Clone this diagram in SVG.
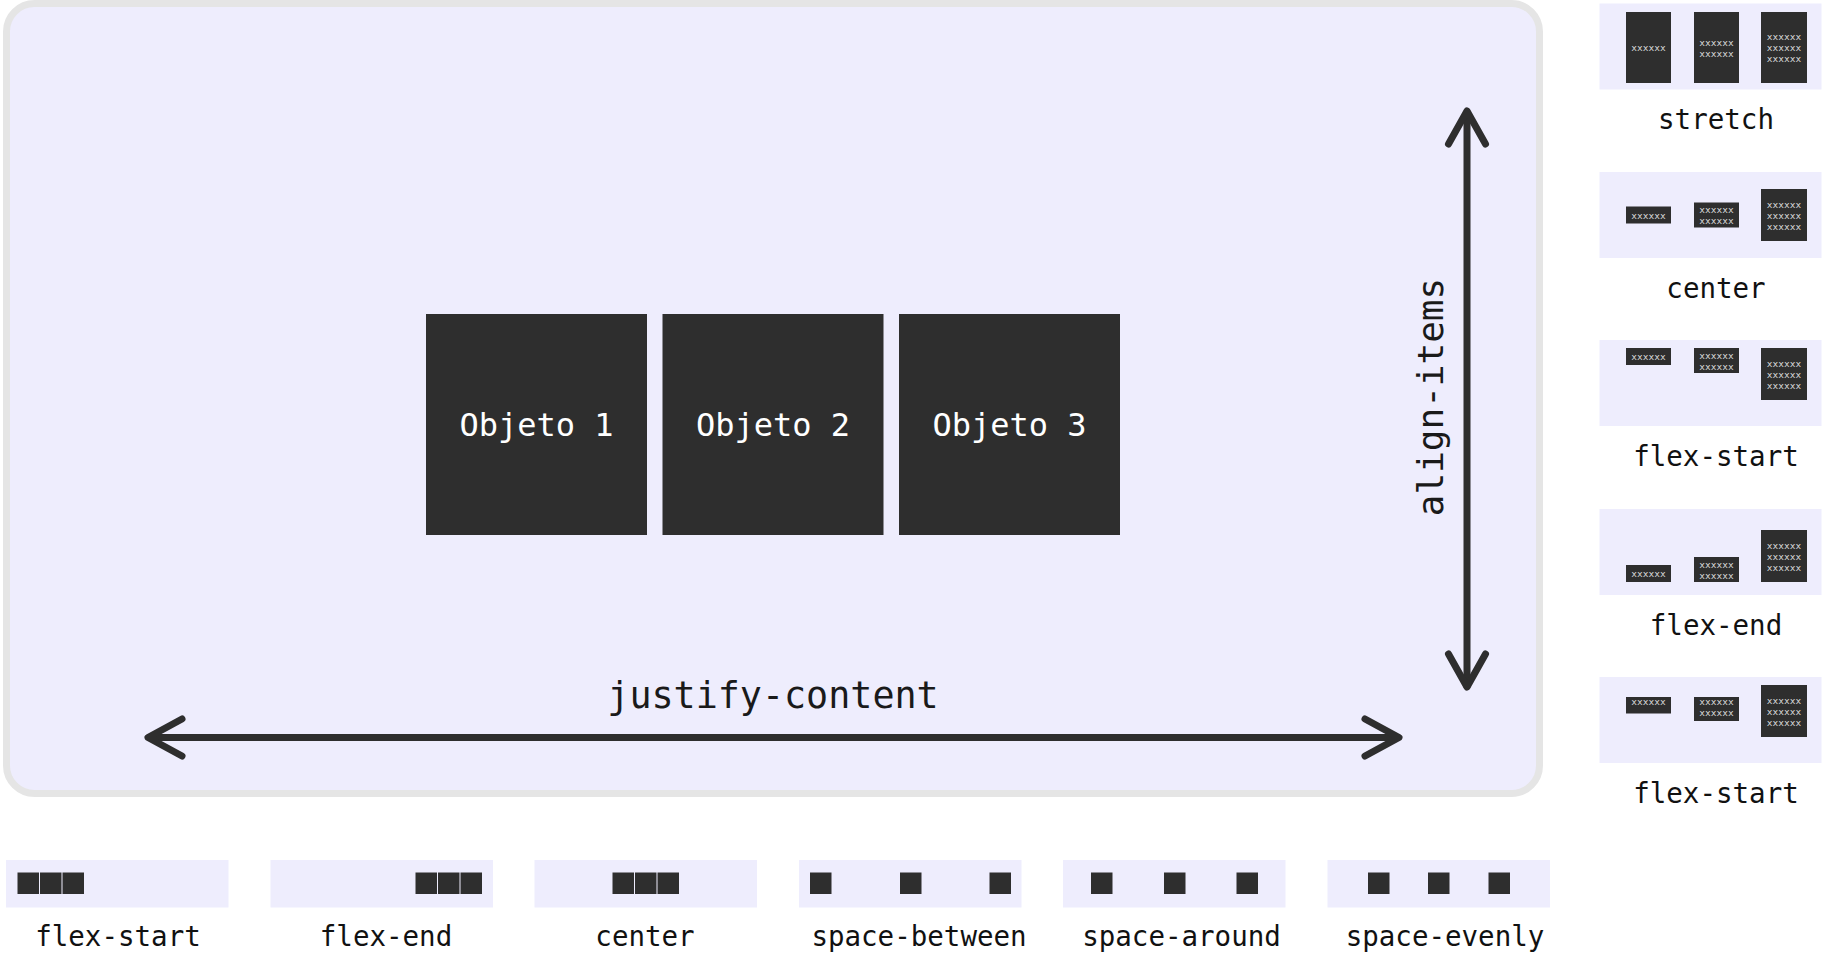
<svg xmlns="http://www.w3.org/2000/svg" width="1836" height="969" viewBox="0 0 1836 969">
<style>
.bg{fill:#ffffff}
.container{fill:#eeedfd;stroke:#e5e5e5;stroke-width:7}
.panel{fill:#eeedfd}
.item{fill:#2e2e2e}
.obj-text{font-family:"DejaVu Sans Mono","Liberation Mono",monospace;font-size:32px;fill:#ffffff;text-anchor:middle}
.axis-text{font-family:"DejaVu Sans Mono","Liberation Mono",monospace;font-size:36px;fill:#1a1a1a;text-anchor:middle}
.label{font-family:"DejaVu Sans Mono","Liberation Mono",monospace;font-size:27.5px;fill:#111111;text-anchor:middle}
.xs{font-family:"DejaVu Sans Mono","Liberation Mono",monospace;font-size:9.5px;fill:#d8d8d8;text-anchor:middle;dominant-baseline:central}
.arrow{fill:none;stroke:#2e2e2e;stroke-width:7;stroke-linecap:round;stroke-linejoin:round}
</style>
<rect class="bg" x="0" y="0" width="1836" height="969"/>

<g id="container">
  <rect class="container" x="6.5" y="3.5" width="1533" height="790" rx="28" ry="28"/>
</g>

<g id="objeto-1">
  <rect class="item" x="426" y="314" width="221" height="221"/>
  <text class="obj-text" x="536.5" y="436">Objeto 1</text>
</g>
<g id="objeto-2">
  <rect class="item" x="662.5" y="314" width="221" height="221"/>
  <text class="obj-text" x="773" y="436">Objeto 2</text>
</g>
<g id="objeto-3">
  <rect class="item" x="899" y="314" width="221" height="221"/>
  <text class="obj-text" x="1009.5" y="436">Objeto 3</text>
</g>

<g id="connectors">
  <g id="justify-content-arrow">
    <line class="arrow" x1="150" y1="737.5" x2="1397" y2="737.5"/>
    <polyline class="arrow" points="182,719 148,737.5 182,756"/>
    <polyline class="arrow" points="1365,719 1399,737.5 1365,756"/>
  </g>
  <g id="align-items-arrow">
    <line class="arrow" x1="1467" y1="113" x2="1467" y2="686"/>
    <polyline class="arrow" points="1448.5,144 1467,111 1485.5,144"/>
    <polyline class="arrow" points="1448.5,654 1467,687 1485.5,654"/>
  </g>
</g>

<g id="label-justify-content">
  <text class="axis-text" x="773" y="708" style="font-size:36.7px">justify-content</text>
</g>
<g id="label-align-items">
  <text class="axis-text" x="0" y="0" transform="translate(1443 397) rotate(-90)">align-items</text>
</g>

<!-- Right column: align-items examples -->
<g id="ai-stretch">
  <rect class="panel" x="1599.5" y="3.5" width="222" height="86"/>
  <rect class="item" x="1626" y="12" width="45" height="71"/>
  <rect class="item" x="1694" y="12" width="45" height="71"/>
  <rect class="item" x="1761" y="12" width="46" height="71"/>
  <text class="xs" x="1648.5" y="47.5">xxxxxx</text>
  <text class="xs" x="1716.5" y="42">xxxxxx</text>
  <text class="xs" x="1716.5" y="53">xxxxxx</text>
  <text class="xs" x="1784" y="36.5">xxxxxx</text>
  <text class="xs" x="1784" y="47.5">xxxxxx</text>
  <text class="xs" x="1784" y="58.5">xxxxxx</text>
  <text class="label" x="1716" y="129">stretch</text>
</g>
<g id="ai-center">
  <rect class="panel" x="1599.5" y="172" width="222" height="86"/>
  <rect class="item" x="1626" y="206.5" width="45" height="17"/>
  <rect class="item" x="1694" y="202.5" width="45" height="25"/>
  <rect class="item" x="1761" y="189" width="46" height="52"/>
  <text class="xs" x="1648.5" y="215">xxxxxx</text>
  <text class="xs" x="1716.5" y="209.5">xxxxxx</text>
  <text class="xs" x="1716.5" y="220.5">xxxxxx</text>
  <text class="xs" x="1784" y="204">xxxxxx</text>
  <text class="xs" x="1784" y="215">xxxxxx</text>
  <text class="xs" x="1784" y="226">xxxxxx</text>
  <text class="label" x="1716" y="298">center</text>
</g>
<g id="ai-flex-start">
  <rect class="panel" x="1599.5" y="340" width="222" height="86"/>
  <rect class="item" x="1626" y="348" width="45" height="17"/>
  <rect class="item" x="1694" y="348" width="45" height="25"/>
  <rect class="item" x="1761" y="348" width="46" height="52"/>
  <text class="xs" x="1648.5" y="356.5">xxxxxx</text>
  <text class="xs" x="1716.5" y="355">xxxxxx</text>
  <text class="xs" x="1716.5" y="366">xxxxxx</text>
  <text class="xs" x="1784" y="363">xxxxxx</text>
  <text class="xs" x="1784" y="374">xxxxxx</text>
  <text class="xs" x="1784" y="385">xxxxxx</text>
  <text class="label" x="1716" y="466">flex-start</text>
</g>
<g id="ai-flex-end">
  <rect class="panel" x="1599.5" y="509" width="222" height="86"/>
  <rect class="item" x="1626" y="565" width="45" height="17"/>
  <rect class="item" x="1694" y="557" width="45" height="25"/>
  <rect class="item" x="1761" y="530" width="46" height="52"/>
  <text class="xs" x="1648.5" y="573.5">xxxxxx</text>
  <text class="xs" x="1716.5" y="564">xxxxxx</text>
  <text class="xs" x="1716.5" y="575">xxxxxx</text>
  <text class="xs" x="1784" y="545">xxxxxx</text>
  <text class="xs" x="1784" y="556">xxxxxx</text>
  <text class="xs" x="1784" y="567">xxxxxx</text>
  <text class="label" x="1716" y="635">flex-end</text>
</g>
<g id="ai-baseline">
  <rect class="panel" x="1599.5" y="677" width="222" height="86"/>
  <rect class="item" x="1626" y="697" width="45" height="16.5"/>
  <rect class="item" x="1694" y="697" width="45" height="24"/>
  <rect class="item" x="1761" y="685" width="46" height="52"/>
  <text class="xs" x="1648.5" y="701.5">xxxxxx</text>
  <text class="xs" x="1716.5" y="701.5">xxxxxx</text>
  <text class="xs" x="1716.5" y="712.5">xxxxxx</text>
  <text class="xs" x="1784" y="700.5">xxxxxx</text>
  <text class="xs" x="1784" y="711.5">xxxxxx</text>
  <text class="xs" x="1784" y="722.5">xxxxxx</text>
  <text class="label" x="1716" y="803">flex-start</text>
</g>

<!-- Bottom row: justify-content examples -->
<g id="jc-flex-start">
  <rect class="panel" x="6" y="860" width="222.5" height="47.5"/>
  <rect class="item" x="17.5" y="872.5" width="21.5" height="21.5"/>
  <rect class="item" x="40" y="872.5" width="21.5" height="21.5"/>
  <rect class="item" x="62.5" y="872.5" width="21.5" height="21.5"/>
  <text class="label" x="118" y="946">flex-start</text>
</g>
<g id="jc-flex-end">
  <rect class="panel" x="270.5" y="860" width="222.5" height="47.5"/>
  <rect class="item" x="415.5" y="872.5" width="21.5" height="21.5"/>
  <rect class="item" x="438" y="872.5" width="21.5" height="21.5"/>
  <rect class="item" x="460.5" y="872.5" width="21.5" height="21.5"/>
  <text class="label" x="386" y="946">flex-end</text>
</g>
<g id="jc-center">
  <rect class="panel" x="534.5" y="860" width="222.5" height="47.5"/>
  <rect class="item" x="612.5" y="872.5" width="21.5" height="21.5"/>
  <rect class="item" x="635" y="872.5" width="21.5" height="21.5"/>
  <rect class="item" x="657.5" y="872.5" width="21.5" height="21.5"/>
  <text class="label" x="645" y="946">center</text>
</g>
<g id="jc-space-between">
  <rect class="panel" x="799" y="860" width="222.5" height="47.5"/>
  <rect class="item" x="810" y="872.5" width="21.5" height="21.5"/>
  <rect class="item" x="900" y="872.5" width="21.5" height="21.5"/>
  <rect class="item" x="989.5" y="872.5" width="21.5" height="21.5"/>
  <text class="label" x="919" y="946">space-between</text>
</g>
<g id="jc-space-around">
  <rect class="panel" x="1063" y="860" width="222.5" height="47.5"/>
  <rect class="item" x="1091" y="872.5" width="21.5" height="21.5"/>
  <rect class="item" x="1164" y="872.5" width="21.5" height="21.5"/>
  <rect class="item" x="1236.5" y="872.5" width="21.5" height="21.5"/>
  <text class="label" x="1181.5" y="946">space-around</text>
</g>
<g id="jc-space-evenly">
  <rect class="panel" x="1327.5" y="860" width="222.5" height="47.5"/>
  <rect class="item" x="1368" y="872.5" width="21.5" height="21.5"/>
  <rect class="item" x="1428" y="872.5" width="21.5" height="21.5"/>
  <rect class="item" x="1488.5" y="872.5" width="21.5" height="21.5"/>
  <text class="label" x="1445" y="946">space-evenly</text>
</g>
</svg>
